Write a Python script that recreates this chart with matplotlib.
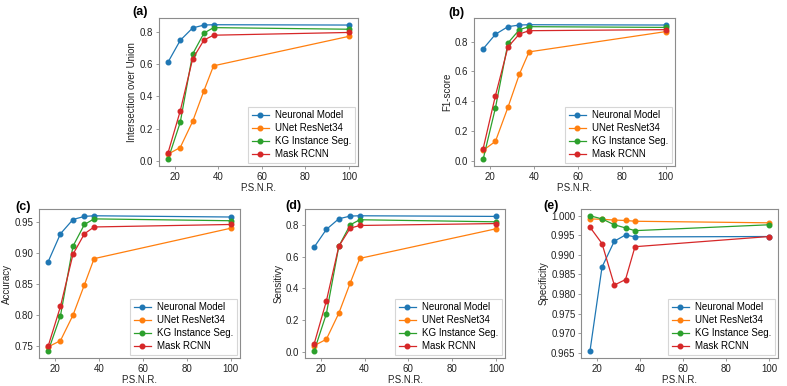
import matplotlib
matplotlib.use("Agg")
import matplotlib.pyplot as plt
from matplotlib.ticker import MultipleLocator, FuncFormatter

plt.rcParams['font.family'] = ['Liberation Sans', 'DejaVu Sans']

psnr = [16.9, 22.5, 28.2, 33.4, 37.8, 100]
methods = ["Neuronal Model", "UNet ResNet34", "KG Instance Seg.", "Mask RCNN"]
colors = ["#1f77b4", "#ff7f0e", "#2ca02c", "#d62728"]

iou = {
    "Neuronal Model": [0.613, 0.748, 0.825, 0.843, 0.845, 0.843],
    "UNet ResNet34": [0.042, 0.083, 0.245, 0.436, 0.590, 0.773],
    "KG Instance Seg.": [0.010, 0.239, 0.663, 0.793, 0.827, 0.817],
    "Mask RCNN": [0.050, 0.310, 0.633, 0.750, 0.780, 0.797],
}
f1 = {
    "Neuronal Model": [0.751, 0.849, 0.900, 0.911, 0.913, 0.911],
    "UNet ResNet34": [0.071, 0.131, 0.360, 0.582, 0.731, 0.867],
    "KG Instance Seg.": [0.011, 0.356, 0.791, 0.880, 0.900, 0.895],
    "Mask RCNN": [0.082, 0.438, 0.764, 0.851, 0.873, 0.880],
}
accuracy = {
    "Neuronal Model": [0.886, 0.931, 0.954, 0.959, 0.960, 0.958],
    "UNet ResNet34": [0.749, 0.759, 0.800, 0.849, 0.891, 0.940],
    "KG Instance Seg.": [0.742, 0.799, 0.911, 0.946, 0.955, 0.952],
    "Mask RCNN": [0.750, 0.814, 0.898, 0.931, 0.942, 0.946],
}
sensitivity = {
    "Neuronal Model": [0.659, 0.771, 0.838, 0.855, 0.857, 0.853],
    "UNet ResNet34": [0.040, 0.080, 0.244, 0.434, 0.589, 0.775],
    "KG Instance Seg.": [0.005, 0.240, 0.665, 0.800, 0.832, 0.819],
    "Mask RCNN": [0.050, 0.320, 0.665, 0.779, 0.796, 0.808],
}
specificity = {
    "Neuronal Model": [0.9654, 0.9869, 0.9935, 0.9951, 0.9946, 0.9947],
    "UNet ResNet34": [0.9992, 0.9991, 0.9989, 0.9988, 0.9986, 0.9982],
    "KG Instance Seg.": [1.0000, 0.9992, 0.9977, 0.9969, 0.9962, 0.9977],
    "Mask RCNN": [0.9971, 0.9929, 0.9823, 0.9837, 0.9921, 0.9947],
}

W, H = 787, 386
fig = plt.figure(figsize=(W / 100, H / 100), dpi=100)

def box(l, r, t, b):
    return [l / W, 1 - b / H, (r - l) / W, (b - t) / H]

panels = [
    ("(a)", iou, "Intersection over Union", box(159, 358, 18, 166), (132, 12), "{:.1f}", 0.2),
    ("(b)", f1, "F1-score", box(474, 675, 18, 166), (448, 13), "{:.1f}", 0.2),
    ("(c)", accuracy, "Accuracy", box(39, 240, 209, 358), (15, 207), "{:.2f}", 0.05),
    ("(d)", sensitivity, "Sensitivy", box(305, 505, 209, 358), (285, 206), "{:.1f}", 0.2),
    ("(e)", specificity, "Specificity", box(581, 778, 209, 358), (543, 206), "{:.3f}", 0.005),
]

spine_col = "#8c8c8c"
for lab, data, ylabel, pos, (lx, ly), fmt, step in panels:
    ax = fig.add_axes(pos)
    for m, c in zip(methods, colors):
        ax.plot(psnr, data[m], marker="o", markersize=3.3, linewidth=0.9, color=c, label=m)
    ax.set_xlabel("P.S.N.R.", fontsize=7, labelpad=1, color="#222222")
    ax.set_ylabel(ylabel, fontsize=7, labelpad=2, color="#222222")
    ax.tick_params(labelsize=7, length=2.5, width=0.6, color=spine_col, pad=1.5,
                   labelcolor="#222222")
    ax.set_xticks([20, 40, 60, 80, 100])
    ax.yaxis.set_major_locator(MultipleLocator(step))
    ax.yaxis.set_major_formatter(FuncFormatter(lambda v, p, f=fmt: f.format(v)))
    for s in ax.spines.values():
        s.set_color(spine_col)
        s.set_linewidth(0.8)
    leg = ax.legend(loc="lower right", fontsize=7, frameon=True, fancybox=False,
                    handlelength=1.8, borderpad=0.4, labelspacing=0.3, handletextpad=0.6,
                    borderaxespad=0.3)
    leg.get_frame().set_edgecolor("#cccccc")
    leg.get_frame().set_linewidth(0.8)
    fig.text(lx / W, 1 - ly / H, lab, fontsize=9, fontweight="bold", ha="left", va="center")

fig.savefig("out.png", dpi=100)
